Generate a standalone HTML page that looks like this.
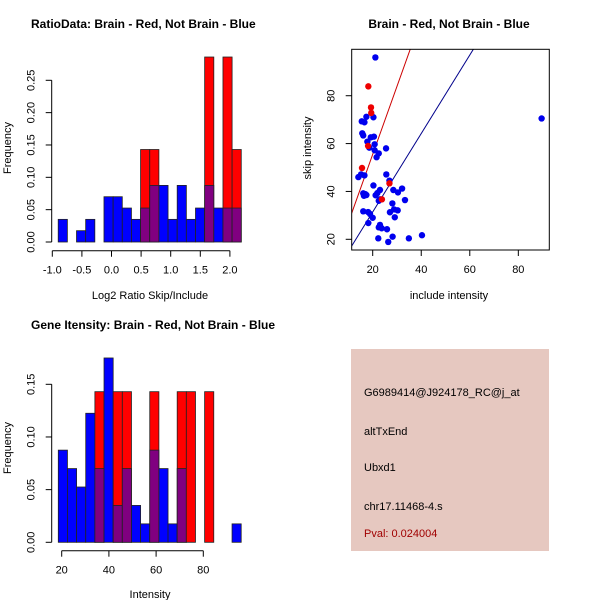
<!DOCTYPE html>
<html><head><meta charset="utf-8"><style>
body{margin:0;background:#fff}
svg{display:block;font-family:"Liberation Sans",sans-serif}
</style></head><body>
<svg id="c" width="600" height="600" xmlns="http://www.w3.org/2000/svg">
<rect width="600" height="600" fill="#fff"/>
<g id="p1"></g>
<g id="p2"></g>
<g id="p3"></g>
<g>
<rect x="351" y="349" width="198" height="202" fill="#E6C8C0"/>
<text x="364" y="396" font-size="11">G6989414@J924178_RC@j_at</text>
<text x="364" y="435" font-size="11">altTxEnd</text>
<text x="364" y="471" font-size="11">Ubxd1</text>
<text x="364" y="510" font-size="11">chr17.11468-4.s</text>
<text x="364" y="537" font-size="11" fill="#A00000">Pval: 0.024004</text>
</g>
</svg>
<script>
// Ratio histogram data
const ratioStart = -0.9, ratioBin = 0.1546;
const ratioBlue = [0.035,0,0.0175,0.035,0,0.07,0.07,0.0525,0.035,0.0525,0.0875,0.0875,0.035,0.0875,0.035,0.0525,0.0875,0.0525,0.0525,0.0525];
const ratioRed  = [0,0,0,0,0,0,0,0,0,0.143,0.143,0,0,0,0,0,0.286,0,0.286,0.143];
const ratioXTicks = ["-1.0","-0.5","0.0","0.5","1.0","1.5","2.0"];
const ratioYTicks = ["0.00","0.05","0.10","0.15","0.20","0.25"];
// Intensity histogram data
const intStart = 18.56, intBin = 3.875;
const intBlue = [0.0875,0.07,0.0525,0.1225,0.07,0.175,0.035,0.07,0.035,0.0175,0.0875,0.07,0.0175,0.07,0,0,0,0,0,0.0175];
const intRed  = [0,0,0,0,0.143,0,0.143,0.143,0,0,0.143,0,0,0.143,0.143,0,0.143,0,0,0];
const intXTicks = ["20","40","60","80"];
const intYTicks = ["0.00","0.05","0.10","0.15"];
// Scatter data
const blueInclude = [21.1,20.3,17.4,15.5,16.6,15.7,16.1,17.8,19.2,20.5,18.6,20.8,20.8,25.5,22.5,21.6,15.2,14.1,16.6,20.3,25.6,26.9,28.5,32.1,30.4,23.0,21.9,21.2,16.1,16.9,16.4,17.4,22.5,23.0,28.1,33.3,27.1,28.8,30.3,29.1,16.1,18.1,18.9,20.0,18.2,23.0,23.7,22.5,25.9,22.3,28.2,26.4,34.9,40.3,89.6];
const blueSkip    = [96.0,71.0,71.2,69.3,68.9,64.3,63.4,60.8,62.6,62.9,58.3,59.7,57.2,58.0,55.9,54.3,47.1,46.0,46.7,42.5,47.1,44.5,40.6,41.2,39.6,40.6,39.3,38.4,39.2,38.9,38.2,38.5,36.1,36.7,35.0,36.4,31.3,32.5,32.1,29.2,31.7,31.4,30.6,29.0,26.8,26.0,24.6,25.0,24.2,20.4,21.1,18.9,20.4,21.7,70.5];
const redInclude = [18.2,19.3,19.4,18.1,15.6,26.9,23.8];
const redSkip    = [83.9,75.1,72.8,59.0,49.8,43.4,36.7];
const redLine  = [-1.3, 2.84];
const blueLine = [-1.4, 1.64];
const scatXTicks = ["20","40","60","80"];
const scatYTicks = ["20","40","60","80"];

const NS="http://www.w3.org/2000/svg";
function mk(parent,tag,attrs,name){const e=document.createElementNS(NS,tag);for(const k in attrs)e.setAttribute(k,attrs[k]);


parent.appendChild(e);return e;}
function txt(parent,x,y,s,name,opts){const t=mk(parent,'text',Object.assign({x:x,y:y,'font-size':11,'text-anchor':'middle'},opts||{}),name);t.textContent=s;return t;}

function hist(g,cfg){
  const sx=v=>cfg.x0+(v-cfg.v0)*cfg.kx, sy=v=>cfg.y0-v*cfg.ky;
  for(let i=0;i<cfg.blue.length;i++){
    const a=cfg.start+i*cfg.bin, b=a+cfg.bin, r=cfg.red[i], bl=cfg.blue[i];
    const x=sx(a), w=sx(b)-sx(a);
    const hi=Math.max(r,bl), lo=Math.min(r,bl);
    if(hi>0) mk(g,'rect',{x:x,y:sy(hi),width:w,height:sy(0)-sy(hi),fill:r>=bl?'#FF0000':'#0000FF',stroke:'#222','stroke-width':0.8},'bar-'+i);
    if(lo>0) mk(g,'rect',{x:x,y:sy(lo),width:w,height:sy(0)-sy(lo),fill:'#800080',stroke:'#222','stroke-width':0.8},'overlap-bar-'+i);
  }
  const xt=cfg.xticks.map(Number);
  mk(g,'line',{x1:sx(xt[0]),x2:sx(xt[xt.length-1]),y1:cfg.axY,y2:cfg.axY,stroke:'#000'},'x-axis');
  xt.forEach((v,i)=>{mk(g,'line',{x1:sx(v),x2:sx(v),y1:cfg.axY,y2:cfg.axY+6,stroke:'#000'},'x-tick');txt(g,sx(v),cfg.axY+23,cfg.xticks[i],'x-tick-label');});
  const yt=cfg.yticks.map(Number);
  mk(g,'line',{x1:cfg.axX,x2:cfg.axX,y1:sy(yt[0]),y2:sy(yt[yt.length-1]),stroke:'#000'},'y-axis');
  yt.forEach((v,i)=>{mk(g,'line',{x1:cfg.axX,x2:cfg.axX-6,y1:sy(v),y2:sy(v),stroke:'#000'},'y-tick');
    txt(g,0,0,cfg.yticks[i],'y-tick-label',{transform:`translate(${cfg.axX-20},${sy(v)}) rotate(-90)`,'dominant-baseline':'middle'});});
  txt(g,31,cfg.titleY,cfg.title,'chart-title',{'text-anchor':'start','font-weight':'bold','font-size':12});
  txt(g,150,cfg.xlabY,cfg.xlab,'x-axis-title');
  txt(g,0,0,'Frequency','y-axis-title',{transform:`translate(11,${cfg.ylabY}) rotate(-90)`});
}
hist(document.getElementById('p1'),{x0:52.3,v0:-1,kx:59.2,y0:242,ky:646.8,start:ratioStart,bin:ratioBin,blue:ratioBlue,red:ratioRed,
  xticks:ratioXTicks,yticks:ratioYTicks,axY:250.7,axX:51.7,titleY:28,title:'RatioData: Brain - Red, Not Brain - Blue',xlab:'Log2 Ratio Skip/Include',xlabY:299,ylabY:148});
hist(document.getElementById('p3'),{x0:61.7,v0:20,kx:2.36,y0:542.3,ky:1053.3,start:intStart,bin:intBin,blue:intBlue,red:intRed,
  xticks:intXTicks,yticks:intYTicks,axY:550.7,axX:51.7,titleY:329,title:'Gene Itensity: Brain - Red, Not Brain - Blue',xlab:'Intensity',xlabY:598,ylabY:448});

(function(){
  const g=document.getElementById('p2');
  const L=351.7,R=549.3,T=49.3,B=250;
  const sx=v=>372.7+(v-20)*2.427, sy=v=>239.3-(v-20)*2.393;
  const clip=mk(g,'clipPath',{id:'sc'},'plot-clip');mk(clip,'rect',{x:L,y:T,width:R-L,height:B-T},'clip-rect');
  const lines=mk(g,'g',{'clip-path':'url(#sc)'},'fit-lines');
  const xa=(L-372.7)/2.427+20, xb=(R-372.7)/2.427+20;
  [[redLine,'#CC0000','red-fit-line'],[blueLine,'#00008B','blue-fit-line']].forEach(([c,col,n])=>{
    mk(lines,'line',{x1:sx(xa),y1:sy(c[0]+c[1]*xa),x2:sx(xb),y2:sy(c[0]+c[1]*xb),stroke:col,'stroke-width':1},n);});
  blueInclude.forEach((v,i)=>mk(g,'circle',{cx:sx(v),cy:sy(blueSkip[i]),r:3.2,fill:'#0000EE'},'blue-point'));
  redInclude.forEach((v,i)=>mk(g,'circle',{cx:sx(v),cy:sy(redSkip[i]),r:3.2,fill:'#EE0000'},'red-point'));
  mk(g,'rect',{x:L,y:T,width:R-L,height:B-T,fill:'none',stroke:'#000'},'plot-box');
  scatXTicks.forEach(s=>{const v=Number(s);mk(g,'line',{x1:sx(v),x2:sx(v),y1:B,y2:B+6,stroke:'#000'},'x-tick');txt(g,sx(v),B+23,s,'x-tick-label');});
  scatYTicks.forEach(s=>{const v=Number(s);mk(g,'line',{x1:L,x2:L-6,y1:sy(v),y2:sy(v),stroke:'#000'},'y-tick');
    txt(g,0,0,s,'y-tick-label',{transform:`translate(${L-20},${sy(v)}) rotate(-90)`,'dominant-baseline':'middle'});});
  txt(g,449,28,'Brain - Red, Not Brain - Blue','chart-title',{'font-weight':'bold','font-size':12});
  txt(g,449,299,'include intensity','x-axis-title');
  txt(g,0,0,'skip intensity','y-axis-title',{transform:'translate(311,148) rotate(-90)'});
})();
</script>
</body></html>
